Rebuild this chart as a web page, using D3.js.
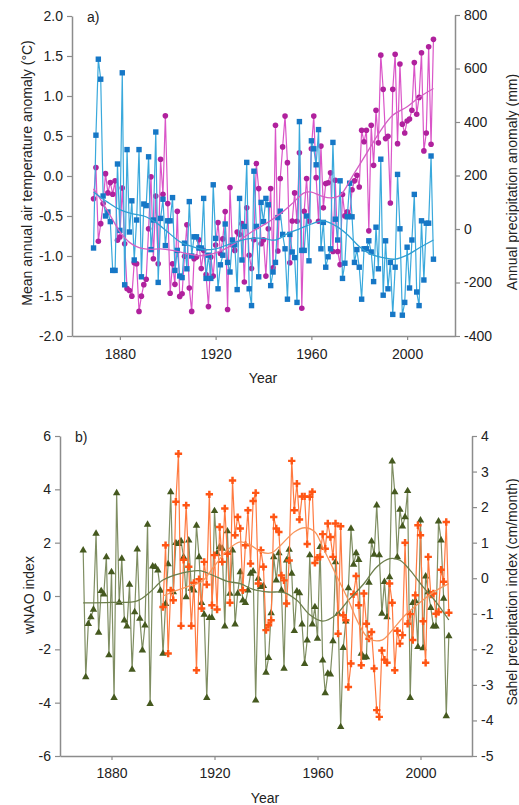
<!DOCTYPE html>
<meta charset="utf-8">
<style>
body { margin: 0; background: #fff; }
text { font-family: "Liberation Sans", Arial, sans-serif; fill: #222; }
</style>
<svg id="chart" width="519" height="805"></svg>
<script src="https://d3js.org/d3.v7.min.js"></script>
<script>

// ---- panel a: temperature (left axis) and precipitation (right axis), 1869-2011
var yearsA = d3.range(1869, 2012);

var temp = [
  -0.90, 0.51, 1.46, 1.21, -0.25, -0.50, -0.45, -0.57, -1.18, -1.18,
  0.15, -0.68, 1.29, -1.36, 0.33, -0.70, -0.31, -1.05, -0.55, 0.33,
  -1.26, -0.35, -0.37, 0.24, -0.92, -0.55, 0.55, -1.33, -0.53, -0.29,
  -0.87, -0.56, -0.56, -0.27, -1.18, -0.93, -1.25, -1.27, -0.84, -1.16,
  -0.32, -1.00, -0.76, -0.76, -0.90, -0.90, -0.28, -1.28, -0.99, -1.28,
  -0.11, -0.78, -1.41, -1.11, -0.99, -0.60, -1.08, -1.20, -0.80, -0.86,
  -1.42, -0.28, -1.05, -0.63, 0.17, -1.41, -1.62, 0.06, -0.63, -1.26,
  -0.33, -0.57, -0.28, -0.36, -1.37, -1.20, -1.08, -0.52, -0.44, -0.73,
  -0.91, -1.54, -0.73, -0.95, -1.02, -1.58, 0.68, -0.93, -0.93, -0.50,
  -1.06, 0.44, 0.34, 0.14, 0.58, -0.91, -0.58, -1.14, -1.01, -0.91,
  0.42, -0.54, -0.80, -0.06, -1.28, -1.09, -0.51, -0.09, -0.51, -1.08,
  -0.92, -1.14, -1.54, -0.91, -0.91, -0.81, -0.95, -1.32, -0.64, -1.16,
  0.21, -1.49, -0.81, -1.41, -1.08, -1.73, -1.14, 0.02, -0.66, -1.74,
  -1.58, -0.89, -1.40, -0.80, -0.23, -1.45, -1.62, -0.56, -1.30, -0.59,
  -0.59, 0.25, -1.04
];

var precip = [
  113, 230, -46, 20, 95, 207, 135, 174, 130, 180,
  -42, -30, 153, -55, -223, -230, -251, -126, -130, -308,
  -251, -208, -188, 1, 195, -111, 123, -130, 261, 130,
  423, 95, -240, -130, -207, 66, -252, -242, -102, 16,
  -221, -308, -111, -105, -40, -148, -80, -170, -290, -105,
  -176, -60, 24, -92, -37, 65, -301, 155, -60, -80,
  -11, -21, 20, -198, 79, -98, -148, -40, 245, 151,
  -55, -40, -176, 1, 151, -145, 388, -82, 189, 307,
  422, 248, -126, 30, 135, 29, 285, -296, 66, 189,
  29, 300, 422, 192, 29, 310, 79, 170, 173, 210,
  -84, 182, -84, -133, 129, 49, 64, 49, 147, 180,
  201, 157, 369, 326, 369, -7, 388, 238, 444, 322,
  650, 522, 338, 347, 97, 522, 653, 319, 617, 392,
  359, 404, 411, 444, 622, 429, 492, 659, 292, 359,
  681, 317, 709
];

var tempSmoothYears = [1869, 1875, 1880, 1885, 1890, 1895, 1900, 1905, 1910, 1915, 1920, 1925, 1930, 1935, 1940,
  1945, 1950, 1955, 1960, 1965, 1970, 1975, 1980, 1985, 1990, 1995, 2000, 2005, 2011];
var tempSmooth = [-0.20, -0.33, -0.42, -0.47, -0.50, -0.58, -0.70, -0.82, -0.88, -0.92, -0.91, -0.86, -0.81, -0.78, -0.78,
  -0.80, -0.72, -0.66, -0.60, -0.56, -0.62, -0.73, -0.88, -0.98, -1.02, -1.04, -0.99, -0.90, -0.80];

var precipSmoothYears = [1869, 1872, 1876, 1880, 1884, 1888, 1892, 1897, 1902, 1908, 1913, 1919, 1924, 1930, 1935,
  1941, 1947, 1952, 1957, 1960, 1964, 1968, 1972, 1977, 1983, 1989, 1994, 2000, 2005, 2011];
var precipSmooth = [150, 110, 50, -10, -50, -70, -76, -74, -80, -92, -100, -92, -74, -42, -11,
  20, 57, 95, 135, 138, 124, 116, 126, 195, 282, 369, 425, 457, 492, 525];

// ---- panel b: wNAO (left axis) 1869-2011, Sahel precipitation (right axis) 1900-2011
var yearsNao = d3.range(1869, 2012);
var nao = [
  1.71, -3.04, -1.04, -0.79, -0.51, 2.34, -1.37, 0.19, 0.06, 1.46,
  -2.22, 0.90, -3.82, 3.86, -0.25, 1.40, -0.91, -1.14, 0.43, -2.76,
  -0.60, 1.75, -0.85, -2.04, -1.10, 2.68, -4.04, 1.11, 1.09, 0.96,
  0.20, -2.16, -0.29, 1.20, 3.90, 0.15, 1.99, 1.96, 2.06, 1.46,
  -0.04, 2.09, 0.28, 0.21, 2.64, 1.46, -0.26, -0.70, -3.82, -0.82,
  -0.82, 3.19, 1.59, 1.84, 1.78, -1.14, 2.43, 0.09, 1.71, -1.06,
  0.09, 0.90, -0.16, -0.26, 0.21, 0.84, 0.93, -3.91, 0.65, 0.34,
  0.38, -2.87, -2.32, -0.64, 1.46, 0.59, 1.61, 0.21, -2.72, 1.34,
  1.74, 0.84, -1.31, 0.18, 0.11, -1.06, -2.54, -1.66, 1.53, -1.06,
  -0.41, -1.60, 1.84, -2.41, -3.64, -2.91, -2.94, -1.69, 1.27, -0.66,
  -4.91, -1.94, -0.95, 0.30, 2.53, 1.18, 1.61, 1.36, -2.16, -2.31,
  -2.29, 0.50, 2.05, 1.55, 3.40, 1.53, -0.66, 0.53, -0.79, 0.71,
  5.05, 3.90, 1.46, 3.24, 2.61, 2.96, 3.94, -3.82, -0.26, -0.19,
  -1.91, 2.84, -1.95, 0.74, 0.15, -0.44, -1.14, -1.14, 2.80, 2.09,
  -0.10, -4.50, -1.50
];

var yearsSahel = d3.range(1900, 2012);
var sahel = [
  -0.81, 0.93, -2.12, -0.34, -0.62, 2.15, 3.50, -1.34, 0.52, 2.05,
  0.32, -1.34, -0.13, -2.59, -0.03, -0.85, 0.46, -0.18, 2.36, -0.76,
  0.65, -0.88, 1.44, 0.46, 1.96, 0.69, -0.69, 2.75, 1.21, 1.72,
  1.40, -0.34, 0.93, 1.91, 0.41, 2.17, 2.40, -0.15, 0.79, 0.32,
  -1.46, -1.32, -1.18, 1.72, 1.40, 1.30, 0.08, -0.06, -0.71, 0.50,
  3.30, 1.91, 2.66, 1.65, 2.30, 2.30, 0.96, 2.29, 2.43, 0.43,
  0.58, 0.60, 1.24, 0.83, 1.54, 1.16, 0.60, 1.54, -1.56, 1.46,
  -1.04, -1.18, -3.06, -2.40, -0.45, 0.06, -0.76, -2.45, -0.43, -1.28,
  -1.70, -1.51, -2.54, -3.71, -3.90, -2.03, -2.29, -2.38, -0.15, -0.69,
  -2.59, -1.48, -1.84, -1.60, 1.00, -1.28, -1.01, -1.74, -0.48, 1.49,
  1.21, -1.21, -2.38, 0.60, -0.46, -0.43, -1.00, -0.95, 0.24, -0.10,
  1.58, -0.97
];

var naoSmoothYears = [1869, 1880, 1890, 1895, 1900, 1907, 1914, 1920, 1925, 1930, 1935, 1941, 1947, 1952, 1957,
  1962, 1967, 1972, 1978, 1983, 1988, 1992, 1996, 2001, 2006, 2011];
var naoSmooth = [-0.26, -0.24, -0.18, 0.15, 0.60, 0.85, 0.95, 0.75, 0.55, 0.46, 0.25, 0.15, 0.13, -0.16, -0.70,
  -0.94, -0.72, -0.16, 0.46, 1.09, 1.40, 1.34, 0.96, 0.34, -0.22, -0.90];

var sahelSmoothYears = [1900, 1905, 1910, 1915, 1920, 1925, 1930, 1934, 1938, 1942, 1946, 1951, 1955, 1959, 1962,
  1967, 1972, 1976, 1980, 1985, 1989, 1994, 2000, 2005, 2011];
var sahelSmooth = [-0.50, -0.35, -0.22, -0.10, 0.35, 0.79, 1.02, 0.93, 0.74, 0.71, 0.95, 1.30, 1.42, 1.30, 0.88,
  0.13, -0.62, -1.28, -1.70, -1.74, -1.46, -1.04, -0.67, -0.39, -0.15];

var yearTicks = [1880, 1920, 1960, 2000];
var tempTicks = [-2, -1.5, -1, -0.5, 0, 0.5, 1, 1.5, 2];
var precipTicks = [-400, -200, 0, 200, 400, 600, 800];
var naoTicks = [-6, -4, -2, 0, 2, 4, 6];
var sahelTicks = [-5, -4, -3, -2, -1, 0, 1, 2, 3, 4];

var svg = d3.select("#chart");
var axisColor = "#8c8c8c";

// scales
var xA = d3.scaleLinear().domain([1860, 2020]).range([72, 455]);
var yT = d3.scaleLinear().domain([-2, 2]).range([336, 16]);
var yP = d3.scaleLinear().domain([-400, 800]).range([336, 15]);

var xB = d3.scaleLinear().domain([1860, 2020]).range([60, 472]);
var yN = d3.scaleLinear().domain([-6, 6]).range([756, 436]);
var yS = d3.scaleLinear().domain([-5, 4]).range([756, 436]);

function styleAxis(g) {
  g.select(".domain").attr("stroke", axisColor).attr("stroke-width", 1.5);
  g.selectAll(".tick line").attr("stroke", axisColor).attr("stroke-width", 1.2);
  g.selectAll(".tick text").attr("fill", "#222").style("font-size", "14px")
    .style("font-family", "Liberation Sans, Arial, sans-serif");
}

function drawAxes(x, yL, yR, ticksL, ticksR, fmtL, bottomY, labelDy) {
  var x0 = x.range()[0], x1 = x.range()[1];
  svg.append("g").attr("transform", "translate(0," + bottomY + ")")
    .call(d3.axisBottom(x).tickValues(yearTicks).tickFormat(d3.format("d")).tickSize(4).tickSizeOuter(0).tickPadding(labelDy))
    .call(styleAxis);
  svg.append("g").attr("transform", "translate(" + x0 + ",0)")
    .call(d3.axisLeft(yL).tickValues(ticksL).tickFormat(fmtL).tickSize(5).tickSizeOuter(0).tickPadding(4))
    .call(styleAxis);
  svg.append("g").attr("transform", "translate(" + x1 + ",0)")
    .call(d3.axisRight(yR).tickValues(ticksR).tickFormat(function(d) { return String(d); }).tickSize(5).tickSizeOuter(0).tickPadding(4))
    .call(styleAxis);
}

function drawSeries(x, y, years, vals, lineColor, markColor, marker) {
  var pts = years.map(function(yr, i) { return [yr, vals[i]]; });
  svg.append("path").datum(pts)
    .attr("fill", "none").attr("stroke", lineColor).attr("stroke-width", 1.2)
    .attr("d", d3.line().x(function(d) { return x(d[0]); }).y(function(d) { return y(d[1]); }));
  var g = svg.append("g").attr("fill", markColor);
  if (marker === "square") {
    g.selectAll("rect").data(pts).join("rect")
      .attr("x", function(d) { return x(d[0]) - 2.7; })
      .attr("y", function(d) { return y(d[1]) - 2.7; })
      .attr("width", 5.4).attr("height", 5.4);
  } else if (marker === "circle") {
    g.selectAll("circle").data(pts).join("circle")
      .attr("cx", function(d) { return x(d[0]); })
      .attr("cy", function(d) { return y(d[1]); })
      .attr("r", 2.8);
  } else {
    var sym = d3.symbol().type(marker === "triangle" ? d3.symbolTriangle : d3.symbolCross)
      .size(marker === "triangle" ? 24 : 30);
    g.selectAll("path").data(pts).join("path")
      .attr("transform", function(d) { return "translate(" + x(d[0]) + "," + y(d[1]) + ")"; })
      .attr("d", sym);
  }
}

function drawSmooth(x, y, years, vals, color) {
  var pts = years.map(function(yr, i) { return [yr, vals[i]]; });
  svg.append("path").datum(pts)
    .attr("fill", "none").attr("stroke", color).attr("stroke-width", 1.3)
    .attr("d", d3.line().curve(d3.curveCatmullRom.alpha(0.5))
      .x(function(d) { return x(d[0]); }).y(function(d) { return y(d[1]); }));
}

function yTitle(txt, x, y) {
  svg.append("text").attr("transform", "translate(" + x + "," + y + ") rotate(-90)")
    .attr("text-anchor", "middle").style("font-size", "14px").text(txt);
}

// ----- panel a
drawSeries(xA, yP, yearsA, precip, "#da55c8", "#b0219d", "circle");
drawSeries(xA, yT, yearsA, temp, "#3aa9dc", "#1677c6", "square");
drawSmooth(xA, yP, precipSmoothYears, precipSmooth, "#d45fc4");
drawSmooth(xA, yT, tempSmoothYears, tempSmooth, "#2f9fd3");
drawAxes(xA, yT, yP, tempTicks, precipTicks, function(d) { return d.toFixed(1); }, 336, 9);

svg.append("text").attr("x", 87).attr("y", 22).style("font-size", "14px").text("a)");
svg.append("text").attr("x", 263).attr("y", 383).attr("text-anchor", "middle").style("font-size", "14px").text("Year");
yTitle("Mean annual air temperature anomaly (\u00B0C)", 32, 173);
yTitle("Annual precipitation anomaly (mm)", 517, 182);

// ----- panel b
drawSeries(xB, yN, yearsNao, nao, "#7f8e62", "#45591f", "triangle");
drawSeries(xB, yS, yearsSahel, sahel, "#ff7a40", "#ff5514", "cross");
drawSmooth(xB, yN, naoSmoothYears, naoSmooth, "#6c7e4b");
drawSmooth(xB, yS, sahelSmoothYears, sahelSmooth, "#f7955c");
drawAxes(xB, yN, yS, naoTicks, sahelTicks, function(d) { return String(d); }, 756, 8);

svg.append("text").attr("x", 75).attr("y", 442).style("font-size", "14px").text("b)");
svg.append("text").attr("x", 265).attr("y", 803).attr("text-anchor", "middle").style("font-size", "14px").text("Year");
yTitle("wNAO index", 34, 595);
yTitle("Sahel precipitation index (cm/month)", 517, 592);

</script>
